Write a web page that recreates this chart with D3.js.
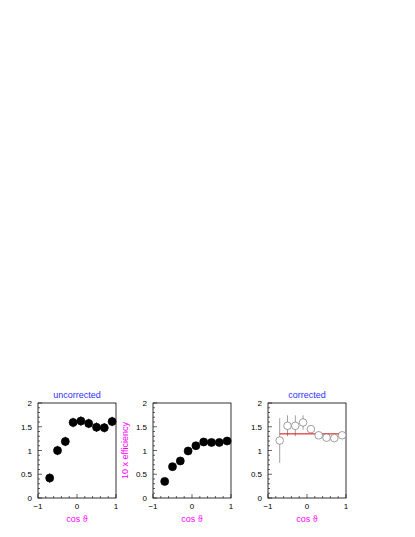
<!DOCTYPE html><html><head><meta charset="utf-8"><script src="https://cdn.jsdelivr.net/npm/d3@7"></script>
<style>body{margin:0;background:#fff}</style></head><body><svg id="c" width="415" height="537"></svg>
<script>
const xs=[-0.7,-0.5,-0.3,-0.1,0.1,0.3,0.5,0.7,0.9];
const uncorr=[0.42,1.0,1.19,1.59,1.62,1.57,1.49,1.48,1.61];
const uncorrErr=[0.1,0.1,0.1,0.1,0.1,0.1,0.1,0.1,0.1];
const eff=[0.35,0.66,0.78,0.99,1.1,1.18,1.17,1.17,1.2];
const effErr=[0.03,0.03,0.03,0.03,0.03,0.03,0.03,0.03,0.03];
const corr=[1.21,1.52,1.52,1.59,1.45,1.32,1.27,1.26,1.32];
const corrErr=[0.47,0.22,0.22,0.15,0.08,0.05,0.04,0.04,0.04];
const fitVal=1.35;
const xTicks=[-1,0,1], yTicks=[0,0.5,1,1.5,2];
(function(){
const svg=d3.select("#c");
const panels=[
 {x0:38,title:"uncorrected",v:uncorr,e:uncorrErr,filled:true},
 {x0:153,title:"",v:eff,e:effErr,filled:true,ylab:"10 x efficiency"},
 {x0:268,title:"corrected",v:corr,e:corrErr,filled:false,fit:true}];
const W=78,yTop=403,yBot=498;
const font="Helvetica, Liberation Sans, Arial, sans-serif";
panels.forEach(p=>{
 const x=d3.scaleLinear().domain([-1,1]).range([p.x0,p.x0+W]);
 const y=d3.scaleLinear().domain([0,2]).range([yBot,yTop]);
 const g=svg.append("g");
 g.append("rect").attr("x",p.x0).attr("y",yTop).attr("width",W).attr("height",yBot-yTop).attr("fill","none").attr("stroke","#000").attr("stroke-width",0.8);
 d3.range(0,2.001,0.1).forEach(t=>{const major=Math.abs(t*2-Math.round(t*2))<1e-6;
  g.append("line").attr("x1",p.x0).attr("x2",p.x0+(major?4:2)).attr("y1",y(t)).attr("y2",y(t)).attr("stroke","#000").attr("stroke-width",0.6);});
 yTicks.forEach(t=>g.append("text").attr("x",p.x0-6).attr("y",y(t)+3).attr("text-anchor","end").attr("font-size",8).attr("font-family",font).text(t));
 d3.range(-1,1.001,0.2).forEach(t=>{const major=Math.abs(t-Math.round(t))<1e-6;
  g.append("line").attr("x1",x(t)).attr("x2",x(t)).attr("y1",yBot).attr("y2",yBot-(major?4:2)).attr("stroke","#000").attr("stroke-width",0.6);});
 xTicks.forEach(t=>g.append("text").attr("x",x(t)).attr("y",yBot+11).attr("text-anchor","middle").attr("font-size",8).attr("font-family",font).text(t===-1?"\u22121":t));
 g.append("text").attr("x",x(0)).attr("y",522).attr("text-anchor","middle").attr("font-size",9).attr("fill","#ff00ff").attr("font-family",font).text("cos \u03d1");
 if(p.title) g.append("text").attr("x",x(0)).attr("y",398).attr("text-anchor","middle").attr("font-size",9).attr("fill","#3030ff").attr("font-family",font).text(p.title);
 if(p.ylab) g.append("text").attr("transform",`translate(128,${(yTop+yBot)/2}) rotate(-90)`).attr("text-anchor","middle").attr("font-size",9).attr("fill","#ff00ff").attr("font-family",font).text(p.ylab);
 const col=p.filled?"#000":"#888";
 xs.forEach((xv,i)=>{g.append("line").attr("x1",x(xv)).attr("x2",x(xv)).attr("y1",y(p.v[i]-p.e[i])).attr("y2",y(p.v[i]+p.e[i])).attr("stroke",col).attr("stroke-width",0.8);});
 if(p.fit) g.append("line").attr("x1",x(-0.7)).attr("x2",x(0.9)).attr("y1",y(fitVal)).attr("y2",y(fitVal)).attr("stroke","#e00000").attr("stroke-width",1);
 xs.forEach((xv,i)=>{g.append("circle").attr("cx",x(xv)).attr("cy",y(p.v[i])).attr("r",p.filled?4:3.8)
   .attr("fill",p.filled?"#000":"#fff").attr("stroke",p.filled?"#000":"#777").attr("stroke-width",0.7);});
});
})();
</script></body></html>
